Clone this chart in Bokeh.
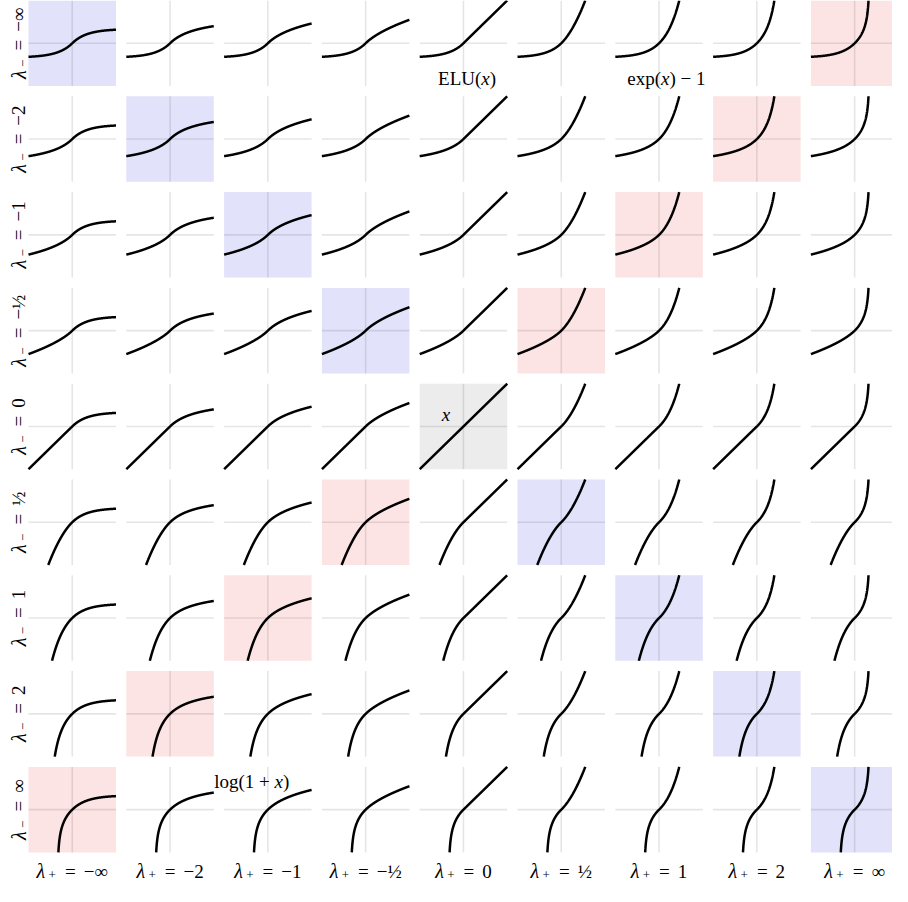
import numpy as np
from bokeh.plotting import figure
from bokeh.models import Range1d
from bokeh.core.properties import value
from bokeh.embed import file_html
from bokeh.resources import INLINE

# ---------------- data ----------------
lambdas = [-np.inf, -2.0, -1.0, -0.5, 0.0, 0.5, 1.0, 2.0, np.inf]
lambda_labels = ["−∞", "−2", "−1", "−½", "0", "½", "1", "2", "∞"]
annot_cells = [(0, 4), (0, 6), (4, 4), (8, 2)]   # (row = λ₋ index, col = λ₊ index)
NB = "\u00a0"
annot_pieces = [
    [("ELU(", False), ("x", True), (")", False)],
    [("exp(", False), ("x", True), (")" + NB + "−" + NB + "1", False)],
    [("x", True)],
    [("log(1" + NB + "+" + NB, False), ("x", True), (")", False)],
]

# ---------------- family of transforms ----------------
def g(lam, t):
    t = np.asarray(t, dtype=float)
    with np.errstate(all="ignore"):
        if lam == 0:
            return t.copy()
        if lam == np.inf:
            return np.where(t < 1, -np.log1p(-np.minimum(t, 1 - 1e-15)), np.inf)
        if lam == -np.inf:
            return -np.expm1(-t)
        if lam == 1:
            return np.expm1(t)
        if lam == -1:
            return np.log1p(t)
        if lam > 0:
            base = 1 + (1 - lam) * t / lam
            out = lam * (np.power(np.where(base > 0, base, np.nan), 1 / (1 - lam)) - 1)
            return np.where(base > 0, out, np.inf)
        mu = -lam
        return mu / (1 - mu) * (np.power(1 + t / mu, 1 - mu) - 1)


def f(x, lm, lp):
    x = np.asarray(x, dtype=float)
    return np.where(x >= 0, g(lp, np.abs(x)), -g(lm, np.abs(x)))


def f_inv(y, lm, lp):
    y = np.asarray(y, dtype=float)
    return np.where(y >= 0, g(-lp, np.abs(y)), -g(-lm, np.abs(y)))


# ---------------- layout (pixels) ----------------
W, H = 892, 886
CW, CH = 87.5, 85.5          # cell size
PX, PY = 97.8, 95.8          # pitch
LEFT, TOP = 28.0, 0.0
R = 3.0                      # data half-range of each cell
kx, ky = CW / (2 * R), CH / (2 * R)

def X_of_px(px):
    return (px - (LEFT + CW / 2)) / kx

def Y_of_py(py):
    return -(py - (TOP + CH / 2)) / ky

def cell_center(r, c):
    return c * PX / kx, -r * PY / ky

p = figure(width=W, height=H, x_range=Range1d(X_of_px(0), X_of_px(W)),
           y_range=Range1d(Y_of_py(H), Y_of_py(0)),
           x_axis_type=None, y_axis_type=None, toolbar_location=None,
           output_backend="svg", min_border=0, outline_line_color=None)
p.background_fill_color = "white"
p.border_fill_color = "white"

n = len(lambdas)
# backgrounds
bx, by, bcol = [], [], []
for i in range(n):
    for j in range(n):
        cx, cy = cell_center(i, j)
        if i == j and lambdas[i] == 0:
            col = "#ececec"
        elif i == j:
            col = "#e2e2fb"
        elif i + j == n - 1:
            col = "#fde4e4"
        else:
            continue
        bx.append(cx); by.append(cy); bcol.append(col)
p.rect(x=bx, y=by, width=2 * R, height=2 * R, fill_color=bcol, line_color=None)

# axis lines per cell
sx0, sy0, sx1, sy1 = [], [], [], []
for i in range(n):
    for j in range(n):
        cx, cy = cell_center(i, j)
        sx0 += [cx, cx - R]; sx1 += [cx, cx + R]
        sy0 += [cy - R, cy]; sy1 += [cy + R, cy]
p.segment(x0=sx0, y0=sy0, x1=sx1, y1=sy1, line_color="black", line_alpha=0.1, line_width=1.6)

# curves
xs_all, ys_all = [], []
grid = np.linspace(-R, R, 600)
for i, lm in enumerate(lambdas):
    for j, lp in enumerate(lambdas):
        x1 = grid
        y1 = f(x1, lm, lp)
        y2 = grid
        x2 = f_inv(y2, lm, lp)
        x = np.concatenate([x1, x2])
        y = np.concatenate([y1, y2])
        ok = np.isfinite(x) & np.isfinite(y) & (np.abs(x) <= R + 1e-9) & (np.abs(y) <= R + 1e-9)
        x, y = x[ok], y[ok]
        order = np.lexsort((y, x))
        x, y = x[order], y[order]
        cx, cy = cell_center(i, j)
        xs_all.append(list(x + cx))
        ys_all.append(list(y + cy))
p.multi_line(xs=xs_all, ys=ys_all, line_color="black", line_width=2.5)

# ---------------- text helpers ----------------
FONT = value("Liberation Serif")
FS = 19
SUB_FS = 13
REG = {' ': .25, NB: .25, '−': .564, '+': .564, '=': .564, '∞': .713, '½': .75, '(': .333, ')': .333,
       'E': .611, 'L': .611, 'U': .722, 'e': .444, 'x': .5, 'p': .5, 'l': .278, 'o': .5, 'g': .5}
ITA = {'x': .444, 'λ': .55}

def text_width(s, italic, size):
    tab = ITA if italic else REG
    return sum(tab.get(ch, REG.get(ch, .5)) for ch in s) * size

groups = {}   # (italic, size, angle) -> [xs, ys, texts]

def put(x, y, s, italic, size, angle):
    key = (italic, size, angle)
    gx = groups.setdefault(key, [[], [], []])
    gx[0].append(x); gx[1].append(y); gx[2].append(s)

def place_row(pieces, anchor_x, anchor_y, rotated=False):
    """pieces: (text, italic, size, shift_px, gap_after_px); anchor = centre of baseline."""
    widths = [text_width(t, it, sz) for t, it, sz, sh, gp in pieces]
    total = sum(widths) + sum(pc[4] for pc in pieces[:-1])
    pos = -total / 2
    for (t, it, sz, sh, gp), w in zip(pieces, widths):
        if rotated:
            put(anchor_x + sh / kx, anchor_y + pos / ky, t, it, sz, np.pi / 2)
        else:
            put(anchor_x + pos / kx, anchor_y - sh / ky, t, it, sz, 0.0)
        pos += w + gp

def label_pieces(sub, val):
    return [("λ", True, FS + 1, 0, 1.0), (sub, False, SUB_FS, 4, 9.0),
            ("=", False, FS, 0, 8.0), (val, False, FS, 0, 0)]

# column labels (λ₊) — baseline
base_py = TOP + 8 * PY + CH + 19
for j in range(n):
    cx, _ = cell_center(0, j)
    place_row(label_pieces("+", lambda_labels[j]), cx, Y_of_py(base_py))

# row labels (λ₋) — rotated, baseline at x = 18px
for i in range(n):
    _, cy = cell_center(i, 0)
    place_row(label_pieces("−", lambda_labels[i]), X_of_px(18), cy, rotated=True)

# annotations (centre positions relative to their cell, data units)
offsets = [(0.25, -2.15), (0.5, -2.15), (-1.2, 1.2), (-1.1, 2.3)]
for (r, c), (dx, dy), pcs in zip(annot_cells, offsets, annot_pieces):
    cx, cy = cell_center(r, c)
    pieces = [(t, it, FS, 0, 0) for t, it in pcs]
    # baseline is ~5px below the visual centre
    place_row(pieces, cx + dx, cy + dy - 5 / ky)

for (italic, size, angle), (gx, gy, gt) in groups.items():
    p.text(x=gx, y=gy, text=gt, text_font=FONT, text_font_size=f"{size}px",
           text_font_style="italic" if italic else "normal", angle=angle,
           text_align="left", text_baseline="alphabetic", text_color="black")

open("out.html", "w").write(file_html(p, INLINE))
